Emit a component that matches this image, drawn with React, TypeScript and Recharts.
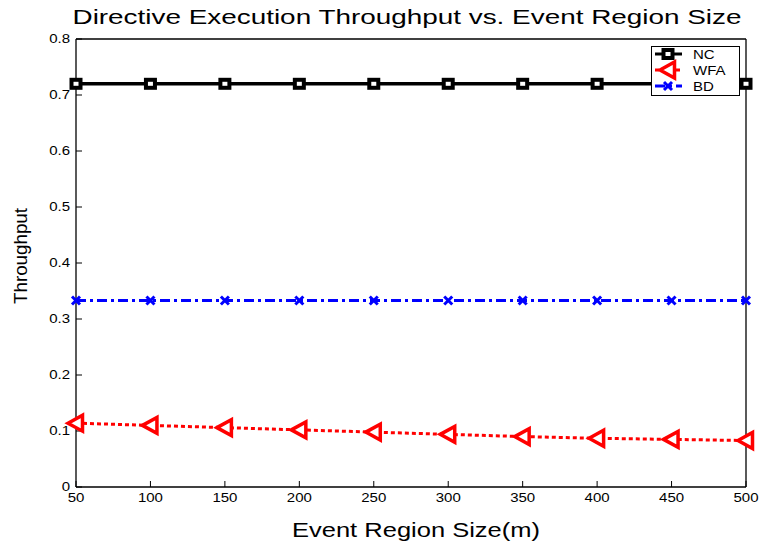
import { LineChart, Line, XAxis, YAxis, Legend } from "recharts"

const regionSizes = [50, 100, 150, 200, 250, 300, 350, 400, 450, 500]
const ncThroughput = [0.72, 0.72, 0.72, 0.72, 0.72, 0.72, 0.72, 0.72, 0.72, 0.72]
const wfaThroughput = [0.114, 0.11, 0.106, 0.102, 0.098, 0.094, 0.09, 0.087, 0.085, 0.083]
const bdThroughput = [0.333, 0.333, 0.333, 0.333, 0.333, 0.333, 0.333, 0.333, 0.333, 0.333]

const xTicks = [50, 100, 150, 200, 250, 300, 350, 400, 450, 500]
const yTicks = [0, 0.1, 0.2, 0.3, 0.4, 0.5, 0.6, 0.7, 0.8]

const data = regionSizes.map((size, i) => ({
  size,
  nc: ncThroughput[i],
  wfa: wfaThroughput[i],
  bd: bdThroughput[i],
}))

const FONT = "'Liberation Sans', Arial, sans-serif"

// matlab-ish markers
const squareMark = (cx: number, cy: number, key?: any) => (
  <rect key={key} x={cx - 4.5} y={cy - 4} width={9} height={8} fill="#fff" stroke="#000" strokeWidth={4} />
)
const triMark = (cx: number, cy: number, key?: any) => (
  <polygon
    key={key}
    points={`${cx - 8},${cy} ${cx + 6.5},${cy - 8} ${cx + 6.5},${cy + 8}`}
    fill="#fff"
    stroke="#ff0000"
    strokeWidth={3.5}
    strokeLinejoin="miter"
  />
)
const xMark = (cx: number, cy: number, key?: any) => (
  <g key={key} stroke="#0000ff" strokeWidth={3}>
    <line x1={cx - 4} y1={cy - 4} x2={cx + 4} y2={cy + 4} />
    <line x1={cx - 4} y1={cy + 4} x2={cx + 4} y2={cy - 4} />
  </g>
)

const NcDot = (p: any) => squareMark(p.cx, p.cy, `nc-${p.index}`)
const WfaDot = (p: any) => triMark(p.cx, p.cy, `wfa-${p.index}`)
const BdDot = (p: any) => xMark(p.cx, p.cy, `bd-${p.index}`)

const XTick = ({ x, y, payload }: any) => (
  <text
    x={0}
    y={0}
    transform={`translate(${x},${y}) scale(1.25,1)`}
    textAnchor="middle"
    dy={12}
    fontSize={12}
    fontFamily={FONT}
    fill="#000"
  >
    {payload.value}
  </text>
)

const YTick = ({ x, y, payload }: any) => (
  <text
    x={0}
    y={0}
    transform={`translate(${x},${y}) scale(1.25,1)`}
    textAnchor="end"
    dy={3.5}
    fontSize={12}
    fontFamily={FONT}
    fill="#000"
  >
    {payload.value}
  </text>
)

const legendItems = [
  { name: "NC", color: "#000", dash: undefined, mark: squareMark },
  { name: "WFA", color: "#ff0000", dash: "4 3", mark: triMark },
  { name: "BD", color: "#0000ff", dash: "10 4 3 4", mark: xMark },
]

const renderLegend = () => (
  <svg width={89} height={50} style={{ display: "block" }}>
    <rect x={0.5} y={0.5} width={88} height={49} fill="#fff" stroke="#000" />
    {legendItems.map((it, i) => {
      const cy = 8 + i * 16
      return (
        <g key={it.name}>
          <line x1={4} x2={31} y1={cy} y2={cy} stroke={it.color} strokeWidth={3} strokeDasharray={it.dash} />
          {it.mark(17, cy)}
          <text
            x={0}
            y={0}
            transform={`translate(42,${cy + 4.5}) scale(1.25,1)`}
            fontSize={12}
            fontFamily={FONT}
            fill="#000"
          >
            {it.name}
          </text>
        </g>
      )
    })}
  </svg>
)

export default function App() {
  return (
    <div style={{ position: "absolute", left: 0, top: 0, width: 759, height: 542, background: "#fff" }}>
      <LineChart width={759} height={542} data={data} margin={{ top: 38, right: 12, bottom: 54, left: 75 }}>
        <XAxis
          dataKey="size"
          type="number"
          domain={[50, 500]}
          ticks={xTicks}
          interval={0}
          height={1}
          tickSize={-6}
          tickMargin={9}
          axisLine={{ stroke: "#000", strokeWidth: 1.3 }}
          tickLine={{ stroke: "#000" }}
          tick={<XTick />}
        />
        <XAxis
          xAxisId="top"
          orientation="top"
          type="number"
          domain={[50, 500]}
          ticks={xTicks}
          interval={0}
          height={1}
          tickSize={-6}
          allowDataOverflow
          axisLine={{ stroke: "#000", strokeWidth: 1.3 }}
          tickLine={{ stroke: "#000" }}
          tick={false}
        />
        <YAxis
          type="number"
          domain={[0, 0.8]}
          ticks={yTicks}
          interval={0}
          width={1}
          tickSize={-6}
          tickMargin={12}
          axisLine={{ stroke: "#000", strokeWidth: 1.3 }}
          tickLine={{ stroke: "#000" }}
          tick={<YTick />}
        />
        <YAxis
          yAxisId="right"
          orientation="right"
          type="number"
          domain={[0, 0.8]}
          ticks={yTicks}
          interval={0}
          width={1}
          tickSize={-6}
          allowDataOverflow
          axisLine={{ stroke: "#000", strokeWidth: 1.3 }}
          tickLine={{ stroke: "#000" }}
          tick={false}
        />
        <Line
          dataKey="nc"
          name="NC"
          stroke="#000"
          strokeWidth={3.5}
          dot={NcDot}
          activeDot={false}
          isAnimationActive={false}
        />
        <Line
          dataKey="bd"
          name="BD"
          stroke="#0000ff"
          strokeWidth={3}
          strokeDasharray="10 4 3 4"
          dot={BdDot}
          activeDot={false}
          isAnimationActive={false}
        />
        <Line
          dataKey="wfa"
          name="WFA"
          stroke="#ff0000"
          strokeWidth={3}
          strokeDasharray="4 3"
          dot={WfaDot}
          activeDot={false}
          isAnimationActive={false}
        />
        <Legend
          layout="horizontal"
          align="center"
          verticalAlign="middle"
          content={renderLegend}
          wrapperStyle={{ left: 651, top: 46, width: 89, height: 50 }}
        />
      </LineChart>
      <svg
        width={759}
        height={542}
        style={{ position: "absolute", left: 0, top: 0, pointerEvents: "none" }}
      >
        <text
          x={407}
          y={24}
          textAnchor="middle"
          fontSize={21}
          fontFamily={FONT}
          textLength={669}
          lengthAdjust="spacingAndGlyphs"
          fill="#000"
        >
          Directive Execution Throughput vs. Event Region Size
        </text>
        <text
          x={416}
          y={537}
          textAnchor="middle"
          fontSize={21}
          fontFamily={FONT}
          textLength={248}
          lengthAdjust="spacingAndGlyphs"
          fill="#000"
        >
          Event Region Size(m)
        </text>
        <text
          x={0}
          y={0}
          transform="translate(27,256) rotate(-90)"
          textAnchor="middle"
          fontSize={18}
          fontFamily={FONT}
          textLength={96}
          lengthAdjust="spacingAndGlyphs"
          fill="#000"
        >
          Throughput
        </text>
      </svg>
    </div>
  )
}
